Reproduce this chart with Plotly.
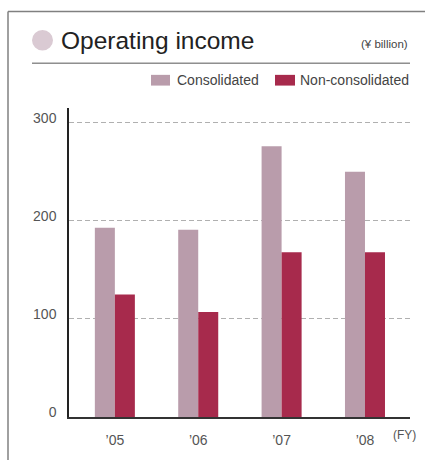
import plotly.graph_objects as go

categories = ["’05", "’06", "’07", "’08"]
consolidated = [193, 191, 276, 250]
non_consolidated = [125, 107, 168, 168]
series_names = ["Consolidated", "Non-consolidated"]
y_ticks = [0, 100, 200, 300]

W, H = 425, 460
L, R, T, B = 69, 15, 108, 35
PW = W - L - R
PH = H - T - B

def px(x):
    return (x - L) / PW

def py(y):
    return (H - B - y) / PH

C1 = "#b99cab"
C2 = "#a72a4c"
FONT = "Liberation Sans, Arial, sans-serif"

fig = go.Figure()
fig.add_trace(go.Bar(x=list(range(4)), y=consolidated, name=series_names[0],
                     marker=dict(color=C1, line=dict(width=0))))
fig.add_trace(go.Bar(x=list(range(4)), y=non_consolidated, name=series_names[1],
                     marker=dict(color=C2, line=dict(width=0))))

shapes = []
# outer frame
shapes.append(dict(type="line", xref="paper", yref="paper", x0=px(8), x1=px(430),
                   y0=py(9), y1=py(9), line=dict(color="#808080", width=1.5)))
shapes.append(dict(type="line", xref="paper", yref="paper", x0=px(8), x1=px(8),
                   y0=py(9), y1=py(470), line=dict(color="#808080", width=1.5)))
# title circle
shapes.append(dict(type="circle", xref="paper", yref="paper", x0=px(32), x1=px(53),
                   y0=py(28), y1=py(49), fillcolor="#dacad3", line=dict(width=0)))
# rule under title
shapes.append(dict(type="line", xref="paper", yref="paper", x0=px(32), x1=px(410),
                   y0=py(62), y1=py(62), line=dict(color="#555555", width=1)))
# legend swatches
shapes.append(dict(type="rect", xref="paper", yref="paper", x0=px(151), x1=px(170),
                   y0=py(74), y1=py(85), fillcolor=C1, line=dict(width=0)))
shapes.append(dict(type="rect", xref="paper", yref="paper", x0=px(275), x1=px(295),
                   y0=py(74), y1=py(85), fillcolor=C2, line=dict(width=0)))

annotations = [
    dict(text="Operating income", x=px(59), y=py(39), xref="paper", yref="paper",
         xanchor="left", yanchor="middle", showarrow=False,
         font=dict(family=FONT, size=24.5, color="#222222")),
    dict(text="(¥ billion)", x=px(410), y=py(42), xref="paper", yref="paper",
         xanchor="right", yanchor="middle", showarrow=False,
         font=dict(family=FONT, size=11.5, color="#444444")),
    dict(text=series_names[0], x=px(175), y=py(79.5), xref="paper", yref="paper",
         xanchor="left", yanchor="middle", showarrow=False,
         font=dict(family=FONT, size=14, color="#444444")),
    dict(text=series_names[1], x=px(298), y=py(79.5), xref="paper", yref="paper",
         xanchor="left", yanchor="middle", showarrow=False,
         font=dict(family=FONT, size=14, color="#444444")),
    dict(text="(FY)", x=px(418), y=py(443), xref="paper", yref="paper",
         xanchor="right", yanchor="middle", showarrow=False,
         font=dict(family=FONT, size=12, color="#555555")),
]

fig.update_layout(
    width=W, height=H,
    margin=dict(l=L, r=R, t=T, b=B, pad=0),
    paper_bgcolor="white", plot_bgcolor="white",
    barmode="group", bargap=0.52, bargroupgap=0,
    showlegend=False,
    shapes=shapes, annotations=annotations,
    font=dict(family=FONT, color="#555555"),
)
fig.update_xaxes(
    range=[-0.55, 3.54], tickmode="array", tickvals=list(range(4)), ticktext=categories,
    showline=True, linecolor="#333333", linewidth=1.5, showgrid=False, zeroline=False,
    ticks="", tickfont=dict(family=FONT, size=14, color="#555555"), ticklabelstandoff=9,
    fixedrange=True,
)
fig.update_yaxes(
    range=[0, 315], tickmode="array", tickvals=y_ticks,
    showline=True, linecolor="#222222", linewidth=1.5, zeroline=False,
    showgrid=True, gridcolor="#b0b0b0", gridwidth=1, griddash="5px,3px",
    ticks="", tickfont=dict(family=FONT, size=14, color="#555555"),
    ticklabelstandoff=8, ticklabelshift=-5,
    fixedrange=True,
)

fig.write_html("out.html", config={"displayModeBar": False},
               post_script="document.body.style.margin='0';document.body.style.overflow='hidden';")
